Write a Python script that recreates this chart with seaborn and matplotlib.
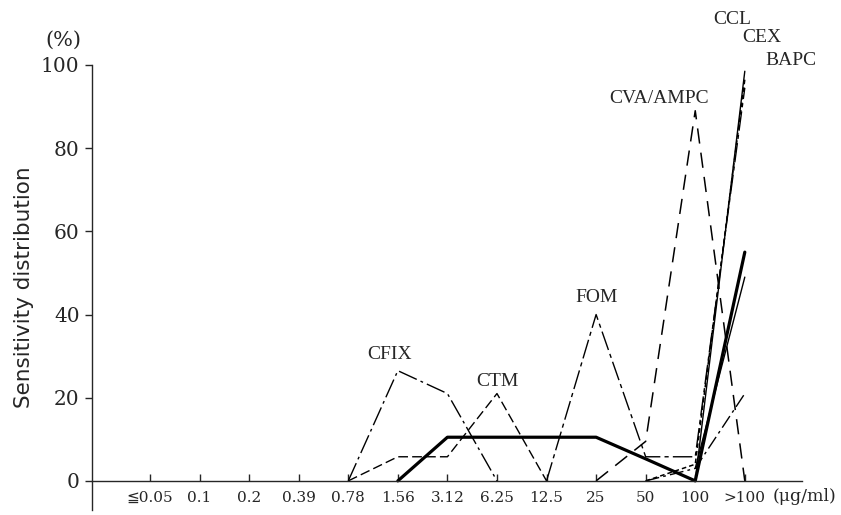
import matplotlib
matplotlib.use('Agg')
import matplotlib.pyplot as plt
import matplotlib.transforms as mtransforms
import seaborn as sns
import pandas as pd
import numpy as np

nan = np.nan

# MIC categories (ug/ml)
categories = ['≦0.05', '0.1', '0.2', '0.39', '0.78', '1.56', '3.12',
              '6.25', '12.5', '25', '50', '100', '>100']

# sensitivity distribution (%) per drug, NaN = not drawn
cfix = [nan, nan, nan, nan, 0, 26.5, 21, 0, nan, nan, nan, nan, nan]
ctm = [nan, nan, nan, nan, 0, 5.8, 5.8, 21, 0, nan, nan, nan, nan]
fom = [nan, nan, nan, nan, nan, nan, nan, nan, 0, 40, 5.8, 5.8, 94.5]
cva_ampc = [nan, nan, nan, nan, nan, nan, nan, nan, nan, 0, 9.5, 89, 0]
ccl = [nan, nan, nan, nan, nan, nan, nan, nan, nan, nan, nan, 0, 98.5]
cex = [nan, nan, nan, nan, nan, nan, nan, nan, nan, nan, 0, 4, 96.5]
bapc = [nan, nan, nan, nan, nan, nan, nan, nan, nan, nan, 0, 3, 21]
thick = [nan, nan, nan, nan, nan, 0, 10.5, 10.5, 10.5, 10.5, 5.3, 0, 55]
thin = [nan, nan, nan, nan, nan, nan, nan, nan, nan, nan, nan, 3, 49]

series = {
    'CFIX': (cfix, (0, (14, 3, 2, 3)), 1.0),
    'CTM': (ctm, (0, (7, 3)), 1.0),
    'FOM': (fom, (0, (14, 3, 3, 3)), 1.0),
    'CVA/AMPC': (cva_ampc, (0, (10, 6)), 1.1),
    'CCL': (ccl, '-', 1.0),
    'CEX': (cex, (0, (3, 2)), 1.1),
    'BAPC': (bapc, (0, (10, 3, 2, 3)), 1.0),
    'thick': (thick, '-', 2.3),
    'thin': (thin, '-', 1.0),
}

sns.set_style('ticks')
plt.rcParams['font.family'] = ['DejaVu Serif', 'DejaVu Sans']

fig = plt.figure(figsize=(8.41, 5.15), dpi=100)
ax = fig.add_axes([0.1094, 0.0097, 0.844, 0.8641])

pos = np.arange(len(categories))
for name, (vals, ls, lw) in series.items():
    df = pd.DataFrame({'pos': pos, 'val': vals}).dropna()
    sns.lineplot(data=df, x='pos', y='val', ax=ax, color='black',
                 linestyle=ls, linewidth=lw, legend=False)

ax.set_xlim(-1.17, 13.15)
ax.set_ylim(-7, 100)
ax.spines['top'].set_visible(False)
ax.spines['right'].set_visible(False)
ax.spines['bottom'].set_position(('data', 0))
ax.spines['left'].set_linewidth(1.0)
ax.spines['bottom'].set_linewidth(1.0)

ax.set_xticks(pos)
ax.set_xticklabels(categories, fontsize=11)
ax.tick_params(axis='x', direction='in', length=5, pad=7, width=1)
ax.set_yticks([0, 20, 40, 60, 80, 100])
ax.set_yticklabels(['0', '20', '40', '60', '80', '100'], fontsize=14.5)
ax.tick_params(axis='y', direction='out', length=5, pad=4, width=1)

ax.set_xlabel('')
ax.set_ylabel('Sensitivity distribution', fontsize=15.5, family='DejaVu Sans')
ax.yaxis.set_label_coords(-0.082, 0.5)

serif = ['Liberation Serif', 'DejaVu Serif']
labels = [('CFIX', 4.84, 30.3), ('CTM', 7.0, 24), ('FOM', 9.0, 44),
          ('CVA/AMPC', 10.28, 92), ('CCL', 11.75, 111), ('CEX', 12.34, 106.7),
          ('BAPC', 12.94, 101)]
for txt, x, y in labels:
    ax.text(x, y, txt, fontsize=14, family=serif, ha='center', va='center')

ax.text(-1.75, 106, '(%)', fontsize=15, ha='center', va='center')
trans = mtransforms.blended_transform_factory(ax.transData, ax.transData)
ax.text(12.56, -3.85, '(μg/ml)', fontsize=12.5, ha='left',
        va='center', transform=trans)

fig.savefig('out.png', dpi=100)
